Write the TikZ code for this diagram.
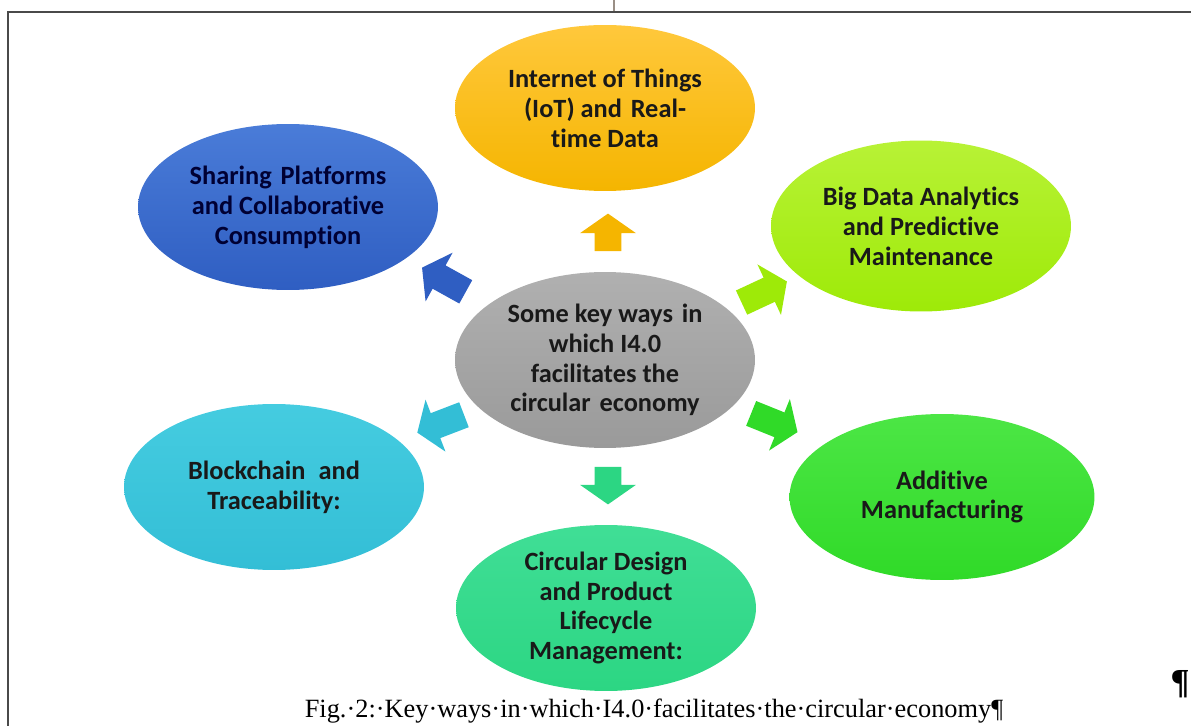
\documentclass[tikz,border=0pt]{standalone}
\usepackage{fontspec}
\setmainfont{Carlito}[Ligatures=NoCommon]
\newfontfamily\capfont{Liberation Serif}
\usetikzlibrary{shapes.geometric, shapes.arrows}

\definecolor{framegray}{HTML}{4A4A4A}
\definecolor{tickgray}{HTML}{9A8F86}
\definecolor{iotA}{HTML}{FFC83C}
\definecolor{iotB}{HTML}{F5B500}
\definecolor{shareA}{HTML}{4A7CD8}
\definecolor{shareB}{HTML}{2F5EC2}
\definecolor{bigA}{HTML}{B8F236}
\definecolor{bigB}{HTML}{9EEA08}
\definecolor{ctrA}{HTML}{B0B0B0}
\definecolor{ctrB}{HTML}{9A9A9A}
\definecolor{chainA}{HTML}{45CCE0}
\definecolor{chainB}{HTML}{33BED6}
\definecolor{addA}{HTML}{4CE645}
\definecolor{addB}{HTML}{30DA28}
\definecolor{desA}{HTML}{40DE96}
\definecolor{desB}{HTML}{2CD683}

\begin{document}
\begin{tikzpicture}[
    x=0.02cm, y=-0.02cm,
    every node/.style={font=\bfseries\fontsize{15}{17}\selectfont},
    bubble/.style={ellipse, minimum width=6cm, minimum height=3.32cm, inner sep=0pt, align=center, text=black!90},
    blockarrow/.style={single arrow, minimum height=0.75cm, inner xsep=0pt, inner ysep=0.26cm,
        single arrow head extend=0.29cm, single arrow tip angle=110}
]
    \useasboundingbox (0,0) rectangle (1191,726);

    % Page frame
    \draw[tickgray, line width=0.8pt] (614,0) -- (614,12);
    \draw[framegray, line width=1.7pt] (8,726) -- (8,12) -- (1191,12);

    % Bubbles
    \node[bubble, top color=ctrA, bottom color=ctrB, minimum height=3.52cm] (ctr) at (605,360)
        {Some key ways\,\,in\\which I4.0\\facilitates the\\circular\,\,economy};
    \node[bubble, top color=iotA, bottom color=iotB] (iot) at (605,108)
        {Internet of Things\\(IoT) and\,\,Real-\\time Data};
    \node[bubble, top color=shareA, bottom color=shareB, text=blue!20!black] (share) at (288,207)
        {Sharing\,\,Platforms\\and Collaborative\\Consumption};
    \node[bubble, top color=bigA, bottom color=bigB, minimum height=3.42cm] (big) at (921,226)
        {Big Data Analytics\\and Predictive\\Maintenance};
    \node[bubble, top color=chainA, bottom color=chainB] (chain) at (274,487)
        {Blockchain\,\,\,and\\Traceability:};
    \node[bubble, top color=addA, bottom color=addB, minimum width=6.1cm] (add) at (942,497)
        {Additive\\Manufacturing};
    \node[bubble, top color=desA, bottom color=desB] (des) at (606,608)
        {Circular Design\\and Product\\Lifecycle\\Management:};

    % Arrows
    \node[blockarrow, fill=iotB, rotate=90] (a-iot) at (608,237) {};
    \node[blockarrow, fill=desB, rotate=-90] (a-des) at (608,481) {};
    \node[blockarrow, fill=shareB, rotate=151, minimum height=1cm] (a-share) at (448,282) {};
    \node[blockarrow, fill=bigB, rotate=25, minimum height=1cm] (a-big) at (760,294) {};
    \node[blockarrow, fill=chainB, rotate=201, minimum height=1cm] (a-chain) at (445,422) {};
    \node[blockarrow, fill=addB, rotate=-22, minimum height=1cm] (a-add) at (770,421) {};

    % Caption
    \node[anchor=base, font=\capfont\fontsize{15}{17}\selectfont] (cap) at (654,717)
        {Fig.·2:·Key·ways·in·which·I4.0·facilitates·the·circular·economy¶};
    \node[font=\capfont\bfseries\fontsize{20}{22}\selectfont] (pilcrow) at (1180,684) {¶};
\end{tikzpicture}
\end{document}
